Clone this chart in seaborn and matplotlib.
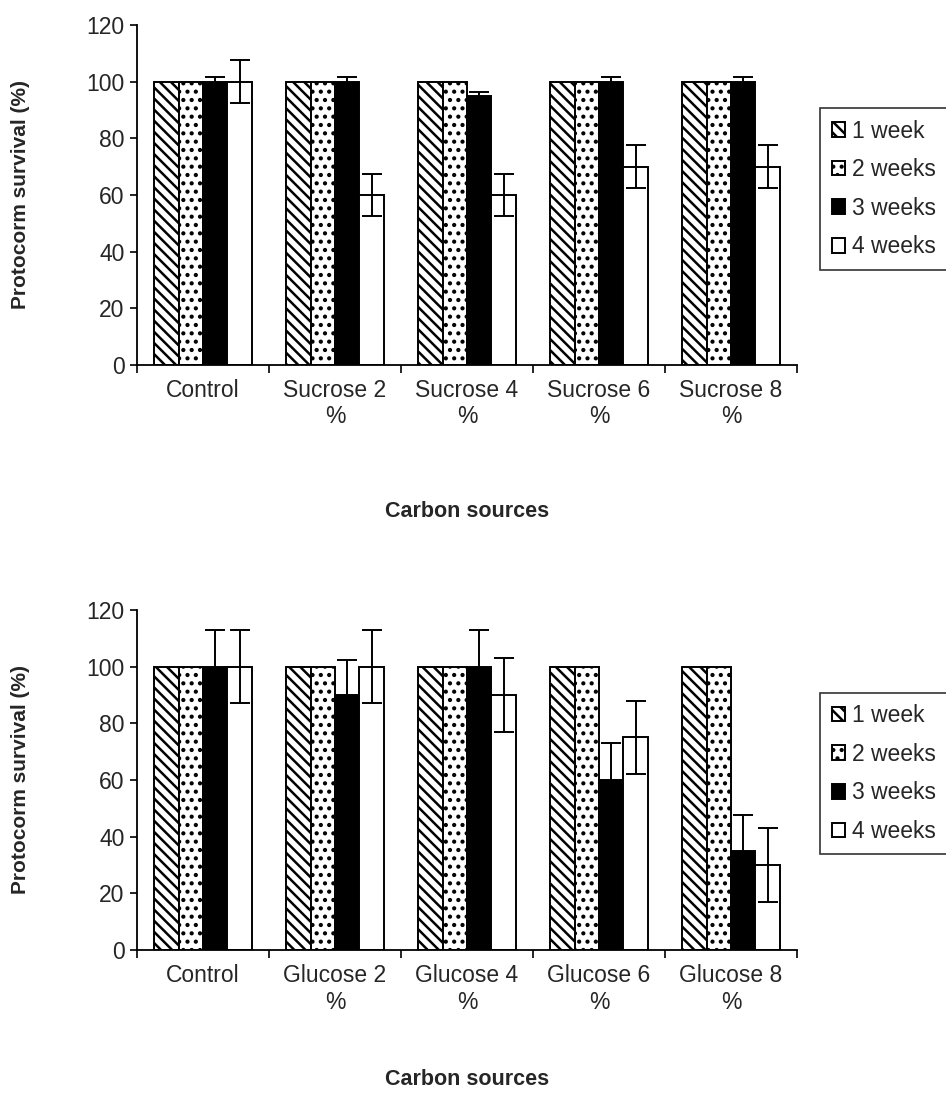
import numpy as np
import pandas as pd
import matplotlib
matplotlib.use("Agg")
import matplotlib.pyplot as plt
import seaborn as sns

# --- data ---
weeks = ["1 week", "2 weeks", "3 weeks", "4 weeks"]

sucrose_cats = ["Control", "Sucrose 2\n%", "Sucrose 4\n%", "Sucrose 6\n%", "Sucrose 8\n%"]
sucrose_1wk = [100, 100, 100, 100, 100]
sucrose_2wk = [100, 100, 100, 100, 100]
sucrose_3wk = [100, 100, 95, 100, 100]
sucrose_4wk = [100, 60, 60, 70, 70]
sucrose_err_3wk = [1.5, 1.5, 1.5, 1.5, 1.5]
sucrose_err_4wk = [7.5, 7.5, 7.5, 7.5, 7.5]

glucose_cats = ["Control", "Glucose 2\n%", "Glucose 4\n%", "Glucose 6\n%", "Glucose 8\n%"]
glucose_1wk = [100, 100, 100, 100, 100]
glucose_2wk = [100, 100, 100, 100, 100]
glucose_3wk = [100, 90, 100, 60, 35]
glucose_4wk = [100, 100, 90, 75, 30]
glucose_err_3wk = [13, 12.5, 13, 13, 12.5]
glucose_err_4wk = [13, 13, 13, 13, 13]

ylabel = "Protocorm survival (%)"
xlabel = "Carbon sources"

sns.set_theme(style="white")
plt.rcParams['font.family'] = ['Liberation Sans', 'DejaVu Sans']
plt.rcParams['hatch.color'] = 'black'
plt.rcParams['hatch.linewidth'] = 1.8

fig = plt.figure(figsize=(9.46, 11.03), dpi=100)
ax_top = fig.add_axes([0.1448, 0.6691, 0.6977, 0.3083])
ax_bot = fig.add_axes([0.1448, 0.1387, 0.6977, 0.3083])

hatches = ['\\\\\\', '..', '', '']
faces = ['white', 'white', 'black', 'white']


def draw(ax, cats, vals, errs, legend_y, xlabel_y):
    df = pd.DataFrame({
        "cat": np.repeat(cats, 4),
        "week": weeks * len(cats),
        "val": np.array(vals).T.ravel(),
    })
    sns.barplot(data=df, x="cat", y="val", hue="week", order=cats, hue_order=weeks,
                palette=faces, edgecolor='black', linewidth=1.4, width=0.74,
                gap=0, saturation=1, errorbar=None, legend=False, ax=ax)
    for cont, h, fc in zip(ax.containers, hatches, faces):
        for p in cont.patches:
            p.set_hatch(h)
            p.set_facecolor(fc)
            p.set_edgecolor('black')
    # error bars for weeks 3 and 4
    for cont, err in zip(ax.containers[2:], errs):
        xs = [p.get_x() + p.get_width() / 2 for p in cont.patches]
        ys = [p.get_height() for p in cont.patches]
        ax.errorbar(xs, ys, yerr=err, fmt='none', ecolor='black',
                    elinewidth=1.4, capsize=7, capthick=1.4)

    ax.set_ylim(0, 120)
    ax.set_xlim(-0.5, len(cats) - 0.5)
    ax.set_yticks(range(0, 121, 20))
    ax.set_xticks(np.arange(-0.5, len(cats), 1.0), minor=True)
    ax.tick_params(axis='x', which='major', length=0, labelsize=16.5, pad=10)
    ax.tick_params(axis='x', which='minor', length=6, width=1.2, direction='out',
                   color='black', bottom=True)
    ax.tick_params(axis='y', length=5, width=1.2, direction='out', color='black',
                   labelsize=16.5, left=True, pad=4)
    for s in ['top', 'right']:
        ax.spines[s].set_visible(False)
    for s in ['left', 'bottom']:
        ax.spines[s].set_color('black')
        ax.spines[s].set_linewidth(1.3)
    ax.set_xlabel(xlabel, fontsize=15.5, fontweight='bold')
    ax.set_ylabel(ylabel, fontsize=15, fontweight='bold')
    ax.xaxis.set_label_coords(0.5, xlabel_y)
    ax.yaxis.set_label_coords(-0.162, 0.5)

    leg = ax.legend(ax.containers, weeks, loc='upper left',
                    bbox_to_anchor=(0.867, legend_y), bbox_transform=fig.transFigure,
                    fontsize=16.5, frameon=True, fancybox=False, handlelength=0.6,
                    handleheight=0.6, handletextpad=0.3, labelspacing=0.68,
                    borderpad=0.5, borderaxespad=0)
    leg.get_frame().set_edgecolor('black')
    leg.get_frame().set_linewidth(1.2)


draw(ax_top, sucrose_cats,
     [sucrose_1wk, sucrose_2wk, sucrose_3wk, sucrose_4wk],
     [sucrose_err_3wk, sucrose_err_4wk], 0.902, -0.40)
draw(ax_bot, glucose_cats,
     [glucose_1wk, glucose_2wk, glucose_3wk, glucose_4wk],
     [glucose_err_3wk, glucose_err_4wk], 0.372, -0.35)

fig.savefig("out.png", dpi=100)
